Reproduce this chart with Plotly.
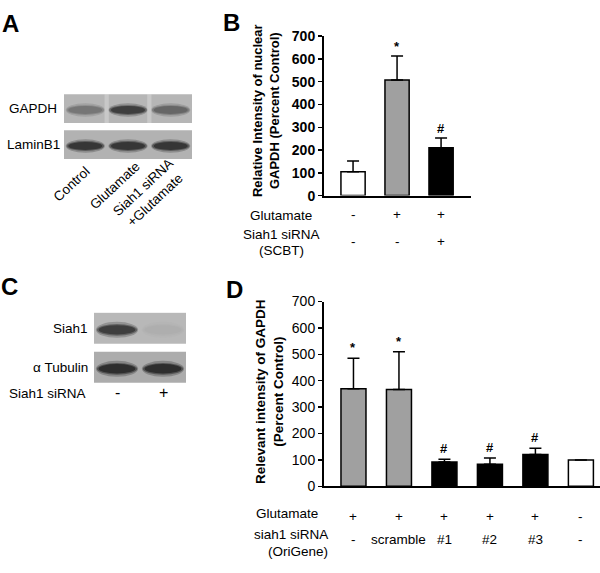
import plotly.graph_objects as go

W, H = 600, 573
FONT = "Arial, Liberation Sans, sans-serif"

# ---------------- data ----------------
# Panel B
b_values = [105, 508, 210]
b_errors = [47, 105, 43]
b_colors = ["white", "#a0a0a0", "black"]
b_marks = ["", "*", "#"]
b_glutamate = ["-", "+", "+"]
b_sirna = ["-", "-", "+"]
b_yticks = [0, 100, 200, 300, 400, 500, 600, 700]

# Panel D
d_values = [370, 367, 92, 83, 120, 100]
d_errors = [115, 143, 10, 24, 24, 0]
d_colors = ["#a0a0a0", "#a0a0a0", "black", "black", "black", "white"]
d_marks = ["*", "*", "#", "#", "#", ""]
d_glutamate = ["+", "+", "+", "+", "+", "-"]
d_sirna = ["-", "scramble", "#1", "#2", "#3", "-"]
d_yticks = [0, 100, 200, 300, 400, 500, 600, 700]

# Panel A blot (band darkness 0..1)
a_lanes = ["Control", "Glutamate", "Siah1 siRNA<br>+Glutamate"]
a_rows = ["GAPDH", "LaminB1"]
a_bands = [[0.45, 0.80, 0.55], [0.85, 0.85, 0.85]]

# Panel C blot
c_lanes = ["-", "+"]
c_rows = ["Siah1", "α Tubulin"]
c_bands = [[0.80, 0.10], [0.90, 0.90]]


def px(x):
    return x / W


def py(y):
    return 1 - y / H


fig = go.Figure()

# ---------------- Panel B bars ----------------
fig.add_trace(go.Bar(
    x=list(range(len(b_values))), y=b_values, width=0.55,
    marker=dict(color=b_colors, line=dict(color="black", width=1.5)),
    error_y=dict(type="data", symmetric=False, array=b_errors,
                 arrayminus=[0] * len(b_errors), color="black",
                 thickness=1.5, width=6),
    xaxis="x", yaxis="y", showlegend=False, hoverinfo="skip"))

# ---------------- Panel D bars ----------------
fig.add_trace(go.Bar(
    x=list(range(len(d_values))), y=d_values, width=0.55,
    marker=dict(color=d_colors, line=dict(color="black", width=1.5)),
    error_y=dict(type="data", symmetric=False, array=d_errors,
                 arrayminus=[0] * len(d_errors), color="black",
                 thickness=1.5, width=6),
    xaxis="x2", yaxis="y2", showlegend=False, hoverinfo="skip"))

shapes = []
annotations = []


def gray(d, a=1.0):
    g = int(190 - 160 * d)
    return f"rgba({g},{g},{g},{a})"


def blot(xref, yref, nlanes, bands, bg_colors, band_h):
    for r, row in enumerate(bands):
        shapes.append(dict(type="rect", xref=xref, yref=yref,
                           x0=-0.5, x1=nlanes - 0.5, y0=r - 0.4, y1=r + 0.4,
                           fillcolor=bg_colors[r], line=dict(width=0), layer="below"))
        for i, d in enumerate(row):
            for (hw, hh, a) in [(0.46, band_h * 1.7, 0.30), (0.44, band_h * 1.25, 0.55), (0.40, band_h, 1.0)]:
                shapes.append(dict(type="circle", xref=xref, yref=yref,
                                   x0=i - hw, x1=i + hw, y0=r + 0.04 - hh, y1=r + 0.04 + hh,
                                   fillcolor=gray(d, a), line=dict(width=0), layer="above"))


blot("x3", "y3", len(a_lanes), a_bands, ["#b6b6b6", "#b2b2b2"], 0.11)
# lighter streaks between lanes in GAPDH blot
for i in range(len(a_lanes) - 1):
    shapes.append(dict(type="rect", xref="x3", yref="y3", x0=i + 0.45, x1=i + 0.55,
                       y0=-0.4, y1=0.4, fillcolor="rgba(255,255,255,0.25)",
                       line=dict(width=0), layer="above"))
blot("x4", "y4", len(c_lanes), c_bands, ["#b8b8b8", "#acacac"], 0.12)

TXT = 13.5

# row labels
for r, name in enumerate(a_rows):
    annotations.append(dict(text=name, xref="paper", yref="y3", x=px(33), y=r,
                            xanchor="center", yanchor="middle", showarrow=False,
                            font=dict(size=TXT, color="black", family=FONT)))
for r, name in enumerate(c_rows):
    annotations.append(dict(text=name, xref="paper", yref="y4", x=px(90), y=r,
                            xanchor="right", yanchor="middle", showarrow=False,
                            font=dict(size=TXT, color="black", family=FONT)))

# rotated lane labels (panel A)
for i, lab in enumerate(a_lanes):
    nl = lab.count("<br>") + 1
    annotations.append(dict(text=lab, xref="x3", yref="paper", x=i,
                            y=py(181 + 6 * (nl - 1) + 2 * i), xshift=-13 - 8 * (nl - 1),
                            textangle=-43, xanchor="center", yanchor="middle",
                            showarrow=False,
                            font=dict(size=TXT, color="black", family=FONT)))

# panel C siRNA row
annotations.append(dict(text="Siah1 siRNA", xref="paper", yref="paper", x=px(88), y=py(397),
                        xanchor="right", yanchor="middle", showarrow=False,
                        font=dict(size=TXT, color="black", family=FONT)))
for i, lab in enumerate(c_lanes):
    annotations.append(dict(text=lab, xref="x4", yref="paper", x=i, y=py(396),
                            xanchor="center", yanchor="middle", showarrow=False,
                            font=dict(size=16, color="black", family=FONT)))

# significance marks
for i, m in enumerate(b_marks):
    if m:
        annotations.append(dict(text=f"<b>{m}</b>", xref="x", yref="y", x=i, y=b_values[i] + b_errors[i],
                                xanchor="center", yanchor="bottom", showarrow=False, yshift=0,
                                font=dict(size=13, color="black", family=FONT)))
for i, m in enumerate(d_marks):
    if m:
        annotations.append(dict(text=f"<b>{m}</b>", xref="x2", yref="y2", x=i, y=d_values[i] + d_errors[i],
                                xanchor="center", yanchor="bottom", showarrow=False, yshift=1,
                                font=dict(size=13, color="black", family=FONT)))

# row tables under B
annotations.append(dict(text="Glutamate", xref="paper", yref="paper", x=px(281), y=py(213),
                        xanchor="center", yanchor="middle", showarrow=False,
                        font=dict(size=TXT, color="black", family=FONT)))
annotations.append(dict(text="Siah1 siRNA", xref="paper", yref="paper", x=px(281), y=py(233),
                        xanchor="center", yanchor="middle", showarrow=False,
                        font=dict(size=TXT, color="black", family=FONT)))
annotations.append(dict(text="(SCBT)", xref="paper", yref="paper", x=px(281), y=py(249),
                        xanchor="center", yanchor="middle", showarrow=False,
                        font=dict(size=TXT, color="black", family=FONT)))
for i in range(len(b_values)):
    annotations.append(dict(text=b_glutamate[i], xref="x", yref="paper", x=i, y=py(212),
                            xanchor="center", yanchor="middle", showarrow=False,
                            font=dict(size=TXT, color="black", family=FONT)))
    annotations.append(dict(text=b_sirna[i], xref="x", yref="paper", x=i, y=py(240),
                            xanchor="center", yanchor="middle", showarrow=False,
                            font=dict(size=TXT, color="black", family=FONT)))

# row tables under D
annotations.append(dict(text="Glutamate", xref="paper", yref="paper", x=px(287), y=py(520),
                        xanchor="center", yanchor="middle", showarrow=False,
                        font=dict(size=TXT, color="black", family=FONT)))
annotations.append(dict(text="siah1 siRNA", xref="paper", yref="paper", x=px(291), y=py(542),
                        xanchor="center", yanchor="middle", showarrow=False,
                        font=dict(size=TXT, color="black", family=FONT)))
annotations.append(dict(text="(OriGene)", xref="paper", yref="paper", x=px(298), y=py(559),
                        xanchor="center", yanchor="middle", showarrow=False,
                        font=dict(size=TXT, color="black", family=FONT)))
for i in range(len(d_values)):
    annotations.append(dict(text=d_glutamate[i], xref="x2", yref="paper", x=i, y=py(523),
                            xanchor="center", yanchor="middle", showarrow=False,
                            font=dict(size=TXT, color="black", family=FONT)))
    annotations.append(dict(text=d_sirna[i], xref="x2", yref="paper", x=i, y=py(547),
                            xanchor="center", yanchor="middle", showarrow=False,
                            font=dict(size=TXT, color="black", family=FONT)))

# y-axis titles
annotations.append(dict(text="<b>Relative Intensity of nuclear<br>GAPDH (Percent Control)</b>",
                        xref="paper", yref="paper", x=px(266), y=py(106), textangle=-90,
                        xanchor="center", yanchor="middle", showarrow=False,
                        font=dict(size=13, color="black", family=FONT)))
annotations.append(dict(text="<b>Relevant intensity of GAPDH<br>(Percent Control)</b>",
                        xref="paper", yref="paper", x=px(270), y=py(395), textangle=-90,
                        xanchor="center", yanchor="middle", showarrow=False,
                        font=dict(size=13.5, color="black", family=FONT)))

# panel letters
for letter, (lx, ly) in {"A": (10, 16), "B": (231, 15), "C": (9, 287), "D": (234, 290)}.items():
    annotations.append(dict(text=f"<b>{letter}</b>", xref="paper", yref="paper", x=px(lx), y=py(ly),
                            xanchor="center", yanchor="middle", showarrow=False,
                            font=dict(size=24, color="black", family=FONT)))

axis_common = dict(showgrid=False, zeroline=False, linecolor="black", linewidth=2,
                   showline=True, fixedrange=True)

fig.update_layout(
    width=W, height=H, margin=dict(l=0, r=0, t=0, b=0),
    paper_bgcolor="white", plot_bgcolor="rgba(0,0,0,0)",
    font=dict(family=FONT, color="black"),
    bargap=0,
    xaxis=dict(domain=[px(324), px(471)], range=[-0.66, 2.68], showticklabels=False,
               ticks="", anchor="y", **axis_common),
    yaxis=dict(domain=[py(193), py(29)], range=[0, 700], tickvals=b_yticks,
               ticks="outside", ticklen=4, tickwidth=1.5, tickcolor="black",
               tickfont=dict(size=14, family=FONT, color="black", weight="bold"),
               anchor="x", **axis_common),
    xaxis2=dict(domain=[px(324), 1.0], range=[-0.648, 5.42], showticklabels=False,
                ticks="", anchor="y2", **axis_common),
    yaxis2=dict(domain=[py(492), py(302)], range=[0, 700], tickvals=d_yticks,
                ticks="outside", ticklen=4, tickwidth=1.5, tickcolor="black",
                tickfont=dict(size=14, family=FONT, color="black"),
                anchor="x2", **axis_common),
    xaxis3=dict(domain=[px(64), px(192)], range=[-0.5, 2.5], visible=False, fixedrange=True, anchor="y3"),
    yaxis3=dict(domain=[py(156), py(88)], range=[1.42, -0.42], visible=False, fixedrange=True, anchor="x3"),
    xaxis4=dict(domain=[px(94), px(186)], range=[-0.5, 1.5], visible=False, fixedrange=True, anchor="y4"),
    yaxis4=dict(domain=[py(386), py(313)], range=[1.41, -0.41], visible=False, fixedrange=True, anchor="x4"),
    shapes=shapes, annotations=annotations,
)

fig.write_html("out.html", config={"displayModeBar": False, "staticPlot": True},
               post_script="document.body.style.margin='0';document.body.style.overflow='hidden';")
